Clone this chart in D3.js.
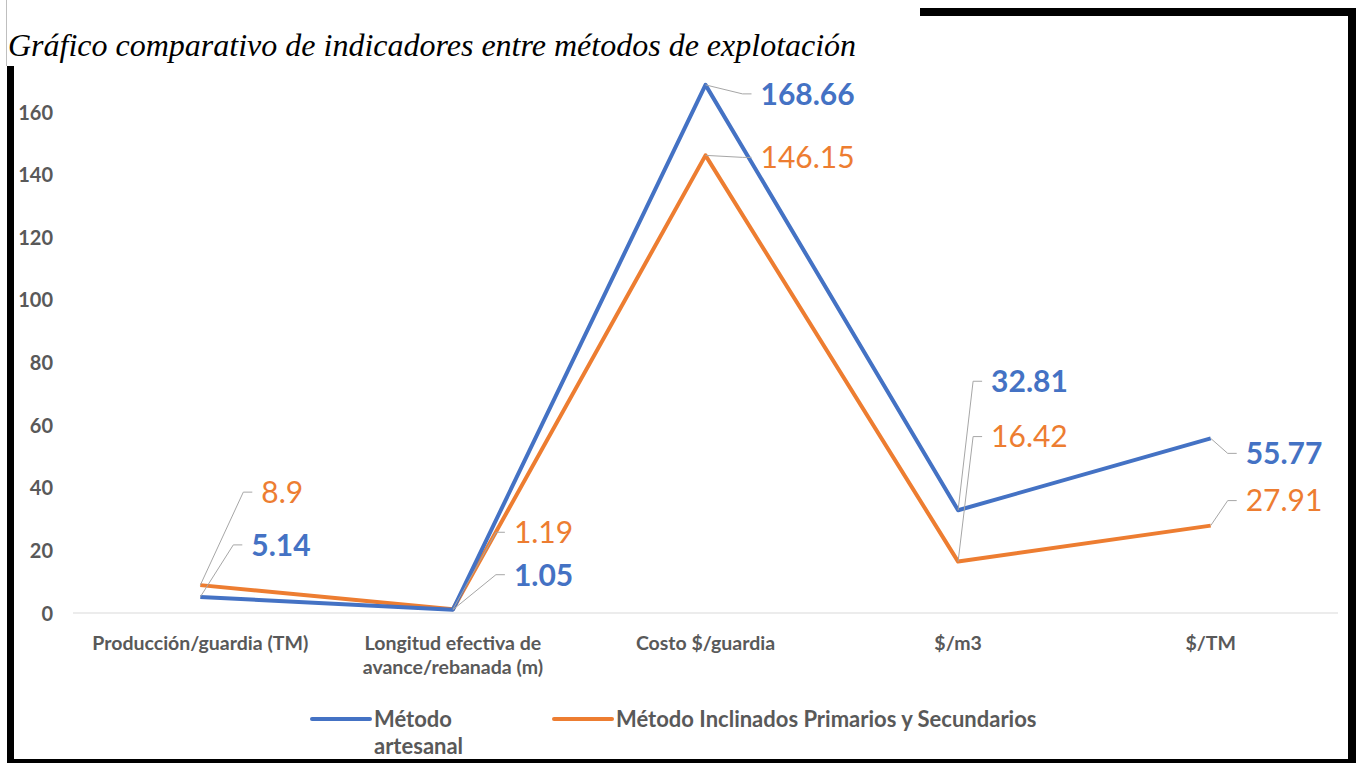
<!DOCTYPE html>
<html lang="es">
<head>
    <meta charset="UTF-8">
    <title>Gráfico comparativo</title>
    <style>
        body { margin: 0; background: #ffffff; }
        .tick text { font-family: Lato, "Open Sans", sans-serif; font-weight: bold; fill: #595959; }
        .serie { fill: none; stroke-width: 4px; stroke-linejoin: round; }
        .leader { fill: none; stroke: #a6a6a6; stroke-width: 1px; }
    </style>
</head>
<body>
    <script src="https://d3js.org/d3.v7.min.js"></script>
    <script>
        var width = 1360;
        var height = 763;

        // datos
        var categorias = [
            ["Producción/guardia (TM)"],
            ["Longitud efectiva de", "avance/rebanada (m)"],
            ["Costo $/guardia"],
            ["$/m3"],
            ["$/TM"]
        ];
        var artesanal = [5.14, 1.05, 168.66, 32.81, 55.77];
        var inclinados = [8.9, 1.19, 146.15, 16.42, 27.91];
        var yTicks = [0, 20, 40, 60, 80, 100, 120, 140, 160];
        var titulo = "Gráfico comparativo de indicadores entre métodos de explotación";
        var leyenda = [["Método", "artesanal"], ["Método Inclinados Primarios y Secundarios"]];

        // posicion de las etiquetas respecto al punto (dx, dy del codo de la linea guia)
        var offArtesanal = [[33, -52], [43, -35], [37, 9], [15, -129], [17, 15]];
        var offInclinados = [[43, -93], [43, -77], [37, 2], [15, -125], [17, -25]];

        var svg = d3.select("body").append("svg")
            .attr("width", width)
            .attr("height", height);

        // marco
        svg.append("line").attr("x1", 6.5).attr("x2", 6.5).attr("y1", 0).attr("y2", 66)
            .attr("stroke", "#bfbfbf").attr("stroke-width", 1);
        svg.append("rect").attr("x", 7).attr("y", 66).attr("width", 7).attr("height", height - 66).attr("fill", "#000");
        svg.append("rect").attr("x", 920).attr("y", 8).attr("width", 436).attr("height", 8).attr("fill", "#000");
        svg.append("rect").attr("x", 1348).attr("y", 8).attr("width", 8).attr("height", height - 8).attr("fill", "#000");
        svg.append("rect").attr("x", 7).attr("y", 759).attr("width", 1349).attr("height", 4).attr("fill", "#000");

        svg.append("text")
            .attr("x", 8)
            .attr("y", 56)
            .attr("font-family", "'Liberation Serif', 'DejaVu Serif', serif")
            .attr("font-style", "italic")
            .attr("font-size", 32)
            .attr("fill", "#000")
            .text(titulo);

        var x = d3.scaleBand()
            .domain(d3.range(categorias.length))
            .range([74, 1337]);

        var y = d3.scaleLinear()
            .domain([0, 160])
            .range([613, 112]);

        function cx(i) { return x(i) + x.bandwidth() / 2; }

        // linea base
        svg.append("line")
            .attr("x1", 73).attr("x2", 1338)
            .attr("y1", y(0)).attr("y2", y(0))
            .attr("stroke", "#d9d9d9").attr("stroke-width", 1);

        var yAxis = svg.append("g")
            .attr("transform", "translate(53,0)")
            .call(d3.axisLeft(y).tickValues(yTicks).tickSize(0).tickPadding(0));
        yAxis.select(".domain").remove();
        yAxis.selectAll("text").attr("font-size", 20).attr("dy", "0.35em");

        // etiquetas de categorias
        var xLab = svg.append("g").selectAll("text")
            .data(categorias)
            .enter().append("text")
            .attr("x", function(d, i) { return cx(i); })
            .attr("y", 650)
            .attr("text-anchor", "middle")
            .attr("font-family", "Lato, 'Open Sans', sans-serif")
            .attr("font-weight", "bold")
            .attr("font-size", 19.5)
            .attr("fill", "#595959");
        xLab.selectAll("tspan")
            .data(function(d) { return d; })
            .enter().append("tspan")
            .attr("x", function() { return d3.select(this.parentNode).attr("x"); })
            .attr("dy", function(d, j) { return j === 0 ? 0 : 24; })
            .text(function(d) { return d; });

        var line = d3.line()
            .x(function(d, i) { return cx(i); })
            .y(function(d) { return y(d); });

        var series = [
            { valores: inclinados, color: "#ED7D31", bold: false, off: offInclinados },
            { valores: artesanal, color: "#4472C4", bold: true, off: offArtesanal }
        ];

        series.forEach(function(s) {
            svg.append("path")
                .datum(s.valores)
                .attr("class", "serie")
                .attr("stroke", s.color)
                .attr("d", line);
        });

        series.forEach(function(s) {
            s.valores.forEach(function(v, i) {
                var px = cx(i), py = y(v);
                var ex = px + s.off[i][0], ey = py + s.off[i][1];
                svg.append("path")
                    .attr("class", "leader")
                    .attr("d", "M" + px + "," + py + "L" + ex + "," + ey + "L" + (ex + 9) + "," + ey);
                svg.append("text")
                    .attr("x", ex + 18)
                    .attr("y", ey)
                    .attr("dy", "0.36em")
                    .attr("font-family", "Lato, 'Open Sans', sans-serif")
                    .attr("font-weight", s.bold ? "bold" : "normal")
                    .attr("font-size", 30)
                    .attr("fill", s.color)
                    .text(v);
            });
        });

        // leyenda
        var legX = [312, 554];
        var legColors = ["#4472C4", "#ED7D31"];
        leyenda.forEach(function(lab, k) {
            svg.append("line")
                .attr("x1", legX[k]).attr("x2", legX[k] + 58)
                .attr("y1", 719).attr("y2", 719)
                .attr("stroke", legColors[k]).attr("stroke-width", 4)
                .attr("stroke-linecap", "round");
            var t = svg.append("text")
                .attr("x", legX[k] + 62)
                .attr("y", 727)
                .attr("font-family", "Lato, 'Open Sans', sans-serif")
                .attr("font-weight", "bold")
                .attr("font-size", 22)
                .attr("fill", "#595959");
            lab.forEach(function(s, j) {
                t.append("tspan")
                    .attr("x", legX[k] + 62)
                    .attr("dy", j === 0 ? 0 : 27)
                    .text(s);
            });
        });
    </script>
</body>
</html>
